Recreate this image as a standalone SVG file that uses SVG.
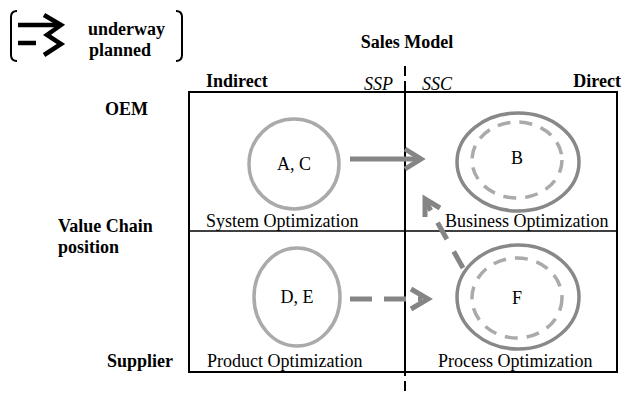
<svg xmlns="http://www.w3.org/2000/svg" width="624" height="393" viewBox="0 0 624 393">
<style>
.lt{fill:none;stroke:#aaaaaa;stroke-width:3.5}
.dk{fill:none;stroke:#888888;stroke-width:3.5}
.dsh{fill:none;stroke:#aaaaaa;stroke-width:3.5;stroke-dasharray:13 9}
.arr{fill:none;stroke:#858585;stroke-width:5}
</style>
<rect width="624" height="393" fill="#fff"/>
<g font-family="Liberation Serif, Times New Roman, serif" fill="#000">
<g id="legend">
<path d="M17,11 Q11,11 11,17 L11,55 Q11,61 17,61" fill="none" stroke="#000" stroke-width="2"/>
<path d="M176,11 Q182,11 182,17 L182,55 Q182,61 176,61" fill="none" stroke="#000" stroke-width="2"/>
<line x1="18" y1="25" x2="60" y2="25" stroke="#000" stroke-width="4.5"/>
<line x1="18" y1="43" x2="36" y2="43" stroke="#000" stroke-width="4.5"/>
<polyline points="44,15 61,25 47,35 61,44 44,55" fill="none" stroke="#000" stroke-width="4.5"/>
<text x="88" y="35" font-size="18" font-weight="bold">underway</text>
<text x="89" y="56" font-size="18" font-weight="bold">planned</text>
</g>
<g id="axes" font-weight="bold" font-size="18">
<text x="407" y="48" text-anchor="middle">Sales Model</text>
<text x="206" y="87">Indirect</text>
<text x="621" y="87" text-anchor="end">Direct</text>
<text x="105" y="115">OEM</text>
<text x="58" y="232">Value Chain</text>
<text x="58" y="253">position</text>
<text x="107" y="367">Supplier</text>
</g>
<text x="364" y="90" font-style="italic" font-size="18">SSP</text>
<text x="422" y="90" font-style="italic" font-size="18">SSC</text>
<line x1="405" y1="66" x2="405" y2="393" stroke="#000" stroke-width="2" stroke-dasharray="10 5"/>
<rect x="189" y="92" width="428" height="280" fill="none" stroke="#000" stroke-width="2"/>
<line x1="189" y1="231" x2="617" y2="231" stroke="#000" stroke-width="1.5"/>
<line x1="405" y1="92" x2="405" y2="372" stroke="#000" stroke-width="2"/>
<g font-size="18">
<g id="q-system"><text x="206" y="227">System Optimization</text></g>
<g id="q-business"><text x="445" y="227">Business Optimization</text></g>
<g id="q-product"><text x="207" y="367">Product Optimization</text></g>
<g id="q-process"><text x="438" y="367">Process Optimization</text></g>
<g id="node-ac">
<circle class="lt" cx="294" cy="164" r="45"/>
<text x="294" y="170" text-anchor="middle">A, C</text>
</g>
<g id="node-de">
<ellipse class="lt" cx="297" cy="297" rx="43" ry="49"/>
<text x="297" y="303" text-anchor="middle">D, E</text>
</g>
<g id="node-b">
<ellipse class="dk" cx="518" cy="162" rx="61" ry="49"/>
<ellipse class="dsh" cx="517" cy="160" rx="45" ry="38"/>
<text x="517" y="164" text-anchor="middle">B</text>
</g>
<g id="node-f">
<ellipse class="dk" cx="518" cy="297" rx="61" ry="52"/>
<ellipse class="dsh" cx="517" cy="298" rx="45" ry="40"/>
<text x="517" y="304" text-anchor="middle">F</text>
</g>
</g>
</g>
<g id="connectors">
<line class="arr" x1="350" y1="159" x2="420" y2="159"/>
<polyline class="arr" points="405,149 421,159 405,169"/>
<line class="arr" x1="350" y1="299" x2="422" y2="299" stroke-dasharray="22 12"/>
<polyline class="arr" points="411,289 428,299 411,309"/>
<line class="arr" x1="463" y1="268" x2="426" y2="202" stroke-dasharray="19 14"/>
<polyline class="arr" points="425,217 425,199 440,208"/>
</g>
</svg>
